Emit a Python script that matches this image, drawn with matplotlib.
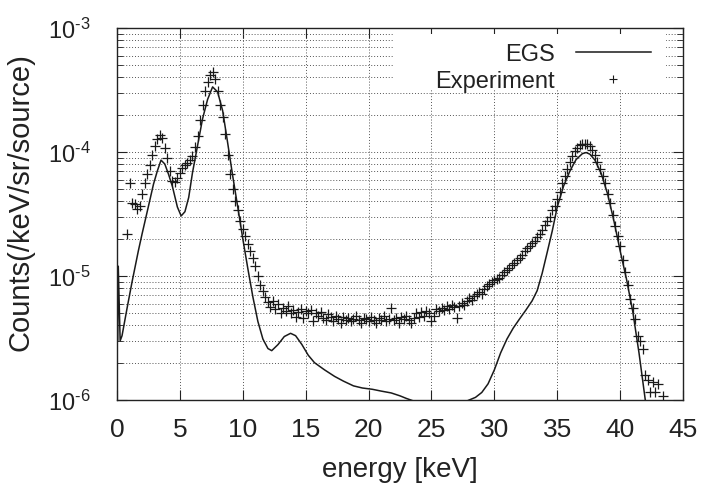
import numpy as np
import matplotlib
matplotlib.use("Agg")
import matplotlib.pyplot as plt
from matplotlib.patches import Rectangle
from matplotlib.ticker import LogLocator, NullFormatter

plt.rcParams["font.family"] = ["Liberation Sans", "DejaVu Sans"]
plt.rcParams["mathtext.fontset"] = "custom"
plt.rcParams["mathtext.rm"] = "Liberation Sans"
plt.rcParams["mathtext.default"] = "regular"

# EGS simulation (solid line), counts in units of 1e-6
egs_energy = [0.06, 0.1, 0.25, 0.4, 0.8, 1.2, 1.7, 2.0, 2.4, 2.9, 3.2, 3.5, 3.8,
              4.1, 4.4, 4.8, 5.1, 5.4, 5.7, 6.0, 6.4, 6.8, 7.2, 7.6, 8.0, 8.4,
              8.8, 9.2, 9.6, 10.0, 10.4, 10.8, 11.2, 11.6, 12.0, 12.3, 12.8,
              13.3, 13.8, 14.2, 14.7, 15.2, 15.7, 16.5, 17.3, 18.0, 18.8, 19.5,
              20.3, 21.0, 21.8, 22.5, 23.0, 23.6, 24.5, 26.0, 27.5, 28.0, 28.5,
              29.0, 29.5, 30.0, 30.5, 31.0, 31.5, 32.0, 32.5, 33.0, 33.4, 33.8,
              34.2, 34.6, 35.0, 35.5, 36.0, 36.5, 37.0, 37.3, 37.6, 38.0, 38.5,
              39.0, 39.5, 40.0, 40.5, 41.0, 41.5, 42.0, 42.3]
egs_counts = [3.0, 12.0, 3.0, 3.3, 5.5, 9.0, 16.0, 22.0, 33.0, 55.0, 70.0, 86.0, 80.0,
              66.0, 53.0, 36.0, 30.5, 33.0, 43.0, 68.0, 112.0, 185.0, 265.0, 335.0,
              305.0, 215.0, 118.0, 64.0, 36.0, 20.0, 11.5, 6.8, 4.3, 3.1, 2.6, 2.5,
              2.8, 3.25, 3.45, 3.3, 2.8, 2.3, 2.0, 1.75, 1.55, 1.42, 1.3, 1.25,
              1.22, 1.18, 1.14, 1.08, 1.03, 0.98, 0.9, 0.8, 0.95, 1.0, 1.05,
              1.15, 1.35, 1.75, 2.4, 3.1, 3.8, 4.5, 5.3, 6.3, 7.6, 10.5,
              15.5, 23.0, 36.0, 53.0, 70.0, 87.0, 97.0, 99.0, 96.0, 86.0, 67.0,
              46.0, 28.0, 16.0, 9.5, 5.2, 2.4, 1.0, 0.7]

# measured spectrum (+ markers), counts in units of 1e-6
exp_energy = [0.8, 1.0, 1.2, 1.4, 1.6, 1.8, 2.0, 2.2, 2.4, 2.6,
              2.8, 3.0, 3.2, 3.4, 3.6, 3.8, 4.0, 4.2, 4.4, 4.6,
              4.8, 5.0, 5.2, 5.4, 5.6, 5.8, 6.0, 6.2, 6.4, 6.6,
              6.8, 7.0, 7.2, 7.4, 7.6, 7.8, 8.0, 8.2, 8.4, 8.6,
              8.8, 9.0, 9.2, 9.4, 9.6, 9.8, 10.0, 10.2, 10.4, 10.6,
              10.8, 11.0, 11.2, 11.4, 11.6, 11.8, 12.0, 12.2, 12.4, 12.6,
              12.8, 13.0, 13.2, 13.4, 13.6, 13.8, 14.0, 14.2, 14.4, 14.6,
              14.8, 15.0, 15.2, 15.4, 15.6, 15.8, 16.0, 16.2, 16.4, 16.6,
              16.8, 17.0, 17.2, 17.4, 17.6, 17.8, 18.0, 18.2, 18.4, 18.6,
              18.8, 19.0, 19.2, 19.4, 19.6, 19.8, 20.0, 20.2, 20.4, 20.6,
              20.8, 21.0, 21.2, 21.4, 21.6, 21.8, 22.0, 22.2, 22.4, 22.6,
              22.8, 23.0, 23.2, 23.4, 23.6, 23.8, 24.0, 24.2, 24.4, 24.6,
              24.8, 25.0, 25.2, 25.4, 25.6, 25.8, 26.0, 26.2, 26.4, 26.6,
              26.8, 27.0, 27.2, 27.4, 27.6, 27.8, 28.0, 28.2, 28.4, 28.6,
              28.8, 29.0, 29.2, 29.4, 29.6, 29.8, 30.0, 30.2, 30.4, 30.6,
              30.8, 31.0, 31.2, 31.4, 31.6, 31.8, 32.0, 32.2, 32.4, 32.6,
              32.8, 33.0, 33.2, 33.4, 33.6, 33.8, 34.0, 34.2, 34.4, 34.6,
              34.8, 35.0, 35.2, 35.4, 35.6, 35.8, 36.0, 36.2, 36.4, 36.6,
              36.8, 37.0, 37.2, 37.4, 37.6, 37.8, 38.0, 38.2, 38.4, 38.6,
              38.8, 39.0, 39.2, 39.4, 39.6, 39.8, 40.0, 40.2, 40.4, 40.6,
              40.8, 41.0, 41.2, 41.4, 41.6, 41.8, 42.0, 42.2, 42.4, 42.6,
              42.8, 43.0, 43.4]
exp_counts = [22, 56, 39, 38, 35, 37, 46, 56, 66, 78,
              95, 112, 128, 138, 130, 108, 90, 70, 58, 57,
              62, 68, 74, 79, 82, 86, 92, 110, 135, 180,
              240, 310, 370, 420, 440, 390, 310, 240, 190, 140,
              95, 66, 50, 40, 34, 28, 24, 21, 18, 16,
              14, 12, 10, 8.5, 7.6, 6.8, 6.2, 5.6, 6.3, 5.4,
              5.9, 5.0, 5.5, 5.2, 5.7, 5.0, 5.3, 4.7, 5.1, 5.4,
              4.6, 5.2, 5.0, 5.3, 4.3, 5.0, 4.8, 5.1, 4.6, 4.4,
              4.9, 4.7, 4.3, 4.8, 4.5, 4.2, 4.7, 4.4, 4.6, 4.3,
              4.5, 4.8, 4.4, 4.2, 4.6, 4.5, 4.3, 4.7, 4.4, 4.2,
              4.6, 4.4, 4.8, 4.3, 4.5, 5.5, 4.4, 4.6, 4.2, 4.7,
              4.5, 4.8, 4.4, 4.2, 4.6, 5.0, 4.7, 5.1, 4.8, 5.2,
              5.0, 4.3, 4.8, 5.4, 5.2, 5.5, 5.3, 5.7, 5.4, 5.8,
              5.6, 4.6, 5.7, 6.1, 5.8, 6.3, 6.6, 6.4, 6.9, 7.1,
              7.4, 7.2, 7.8, 8.3, 8.6, 8.9, 9.2, 9.4, 9.6, 10.2,
              10.8, 11.2, 11.6, 12.2, 12.8, 13.4, 14.0, 14.8, 15.8, 16.8,
              17.6, 18.5, 19.3, 20.5, 22.0, 23.5, 26, 28, 30, 34,
              37, 42, 48, 56, 64, 73, 83, 93, 102, 108,
              114, 116, 117, 115, 112, 104, 94, 83, 73, 64,
              56, 46, 39, 31, 25.5, 21, 17.5, 13.5, 10.7, 8.5,
              6.5, 5.5, 4.5, 3.3, 3.0, 2.6, 1.6, 1.45, 1.15, 1.4,
              1.15, 1.35, 1.08]

y_ticks = [1e-6, 1e-5, 1e-4, 1e-3]
y_ticklabels = [r"10$^{\text{-}6}$", r"10$^{\text{-}5}$",
                r"10$^{\text{-}4}$", r"10$^{\text{-}3}$"]

fig = plt.figure(figsize=(7.04, 4.85), dpi=100)
ax = fig.add_axes([0.1662, 0.1732, 0.804, 0.767])

ax.plot(egs_energy, np.array(egs_counts) * 1e-6, color="#1a1a1a", lw=1.1,
        label="EGS")
ax.plot(exp_energy, np.array(exp_counts) * 1e-6, ls="none", marker="+",
        ms=7.5, mew=0.9, color="#1a1a1a", label="Experiment")

ax.set_yscale("log")
ax.set_xlim(0, 45)
ax.set_ylim(1e-6, 1e-3)
ax.set_xticks(range(0, 46, 5))
ax.set_yticks(y_ticks)
ax.set_yticklabels(y_ticklabels)
ax.yaxis.set_minor_locator(LogLocator(base=10, subs=np.arange(2, 10)))
ax.yaxis.set_minor_formatter(NullFormatter())

ax.tick_params(which="both", direction="in", top=True, right=True,
               colors="#222222")
ax.tick_params(axis="x", labelsize=19, pad=12)
ax.tick_params(axis="y", labelsize=17, pad=19)
ax.tick_params(which="major", length=7, width=0.8)
ax.tick_params(which="minor", length=4, width=0.6)

grid_kw = dict(color="#555555", lw=0.7, ls=(0, (1, 2)))
ax.grid(True, which="major", axis="both", **grid_kw)
ax.grid(True, which="minor", axis="y", **grid_kw)

for s in ax.spines.values():
    s.set_linewidth(1.0)
    s.set_color("#222222")

ax.set_xlabel("energy [keV]", fontsize=20, color="#222222", labelpad=11)
ax.set_ylabel("Counts(/keV/sr/source)", fontsize=21, color="#222222")
ax.yaxis.set_label_coords(-0.145, 0.536)

# white key area that blanks the grid behind the legend
ax.add_patch(Rectangle((0.487, 0.836), 0.483, 0.147, transform=ax.transAxes,
                       facecolor="white", edgecolor="none", zorder=1.6))

leg = ax.legend(loc="upper right", bbox_to_anchor=(0.973, 1.004),
                markerfirst=False, fontsize=17, handlelength=3.2,
                handletextpad=0.9, labelspacing=0.2, borderpad=0.7,
                borderaxespad=0.0, frameon=False)
for t in leg.get_texts():
    t.set_color("#222222")
leg.legend_handles[1].set_markersize(5.5)
leg.legend_handles[1].set_markeredgewidth(0.8)

fig.savefig("out.png", dpi=100, facecolor="white")
